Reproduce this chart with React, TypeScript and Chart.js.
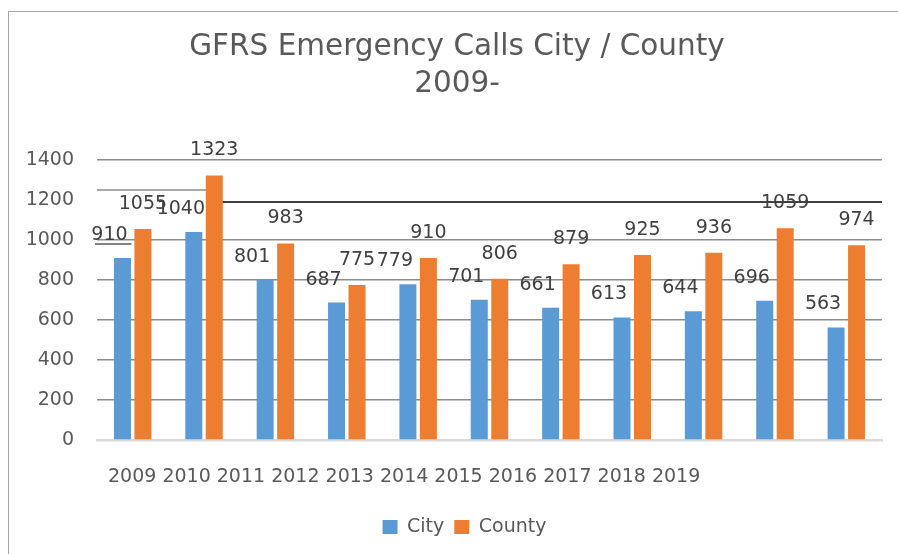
import React, { useEffect, useRef } from 'react';
import { Chart, registerables } from 'chart.js';

Chart.register(...registerables);

const categories = ['2009', '2010', '2011', '2012', '2013', '2014', '2015', '2016', '2017', '2018', '2019'];
const cityValues = [910, 1040, 801, 687, 779, 701, 661, 613, 644, 696, 563];
const countyValues = [1055, 1323, 983, 775, 910, 806, 879, 925, 936, 1059, 974];
const yMin = 0;
const yMax = 1400;
const yStep = 200;
const titleLines = ['GFRS Emergency Calls City / County', '2009-'];
const seriesNames = ['City', 'County'];

const FONT = 'DejaVu Sans';
const TEXT = '#595959';
const LABEL = '#404040';
const BLUE = '#5B9BD5';
const ORANGE = '#ED7D31';

const decorPlugin = {
  id: 'decor',
  afterLayout(chart: any) {
    const lg = chart.legend;
    if (lg) {
      const target = 464.5;
      const shift = target - (lg.left + lg.right) / 2;
      lg.left += shift;
      lg.right += shift;
    }
  },
  beforeDatasetsDraw(chart: any) {
    const { ctx, chartArea, scales } = chart;
    const y = scales.y;
    const m1 = chart.getDatasetMeta(1);
    const b1 = m1.data[1];
    ctx.save();
    ctx.strokeStyle = '#404040';
    ctx.lineWidth = 2;
    ctx.beginPath();
    const yd = y.getPixelForValue(1200) + 2;
    ctx.moveTo(b1.x + b1.width / 2 - 1, yd);
    ctx.lineTo(chartArea.right, yd);
    ctx.stroke();
    ctx.strokeStyle = '#8c8c8c';
    ctx.lineWidth = 1.5;
    ctx.beginPath();
    const yg = y.getPixelForValue(1250);
    ctx.moveTo(chartArea.left, yg);
    ctx.lineTo(b1.x - b1.width / 2 + 1, yg);
    ctx.stroke();
    ctx.restore();
  },
  afterDatasetsDraw(chart: any) {
    const { ctx, chartArea, scales } = chart;
    ctx.save();
    ctx.font = `19px "${FONT}"`;
    ctx.fillStyle = LABEL;
    ctx.textAlign = 'center';
    ctx.textBaseline = 'middle';
    const m0 = chart.getDatasetMeta(0);
    const m1 = chart.getDatasetMeta(1);
    m0.data.forEach((bar: any, i: number) => {
      ctx.fillText(String(cityValues[i]), bar.x - 13, bar.y - 23);
    });
    m1.data.forEach((bar: any, i: number) => {
      ctx.fillText(String(countyValues[i]), bar.x, bar.y - 25);
    });
    const b0 = m0.data[0];
    ctx.strokeStyle = '#595959';
    ctx.lineWidth = 1.5;
    ctx.beginPath();
    const yu = scales.y.getPixelForValue(980);
    ctx.moveTo(chartArea.left - 2, yu);
    ctx.lineTo(b0.x + 9, yu);
    ctx.stroke();

    ctx.fillStyle = TEXT;
    ctx.textAlign = 'left';
    ctx.fillText(categories.join(' '), chartArea.left + 11, chartArea.bottom + 37);

    ctx.font = `29.5px "${FONT}"`;
    ctx.textAlign = 'center';
    ctx.textBaseline = 'alphabetic';
    ctx.fillText(titleLines[0], 457, 55);
    ctx.fillText(titleLines[1], 457, 92);
    ctx.restore();
  },
};

export default function App() {
  const ref = useRef<HTMLCanvasElement>(null);
  useEffect(() => {
    if (!ref.current) return;
    Chart.defaults.font.family = FONT;
    const chart = new Chart(ref.current, {
      type: 'bar',
      data: {
        labels: categories,
        datasets: [
          { label: seriesNames[0], data: cityValues, backgroundColor: BLUE, categoryPercentage: 0.574, barPercentage: 0.83 },
          { label: seriesNames[1], data: countyValues, backgroundColor: ORANGE, categoryPercentage: 0.574, barPercentage: 0.83 },
        ],
      },
      options: {
        animation: false,
        responsive: false,
        maintainAspectRatio: false,
        layout: { padding: { left: 20, right: 16, top: 160, bottom: 7.5 } },
        plugins: {
          title: { display: false },
          tooltip: { enabled: false },
          legend: {
            position: 'bottom',
            labels: {
              boxWidth: 15,
              boxHeight: 14,
              padding: 10,
              color: TEXT,
              font: { size: 19, family: FONT },
            },
          },
        },
        scales: {
          x: {
            ticks: { display: false },
            grid: { display: false },
            border: { display: true, color: '#d9d9d9', width: 2.5 },
            afterFit: (s: any) => { s.height = 67.5; },
          },
          y: {
            min: yMin,
            max: yMax,
            ticks: {
              stepSize: yStep,
              padding: 23,
              color: TEXT,
              font: { size: 19, family: FONT },
              callback: (v: any) => String(v),
            },
            grid: {
              drawTicks: false,
              lineWidth: 1.5,
              color: (c: any) => {
                const v = c.tick ? c.tick.value : null;
                if (v === 0) return '#d9d9d9';
                if (v === 1200) return 'rgba(0,0,0,0)';
                return '#8c8c8c';
              },
            },
            border: { display: false },
            afterFit: (s: any) => { s.width = 77; },
          },
        },
      },
      plugins: [decorPlugin],
    } as any);
    return () => chart.destroy();
  }, []);
  return (
    <div style={{ position: 'fixed', left: 0, top: 0, width: 898, height: 554, background: '#fff', overflow: 'hidden' }}>
      <canvas ref={ref} width={898} height={554} style={{ display: 'block', width: 898, height: 554 }} />
      <div style={{ position: 'absolute', left: 8, top: 11, width: 1000, height: 1000, borderTop: '1.5px solid #a6a6a6', borderLeft: '1.5px solid #a6a6a6', pointerEvents: 'none' }} />
    </div>
  );
}
